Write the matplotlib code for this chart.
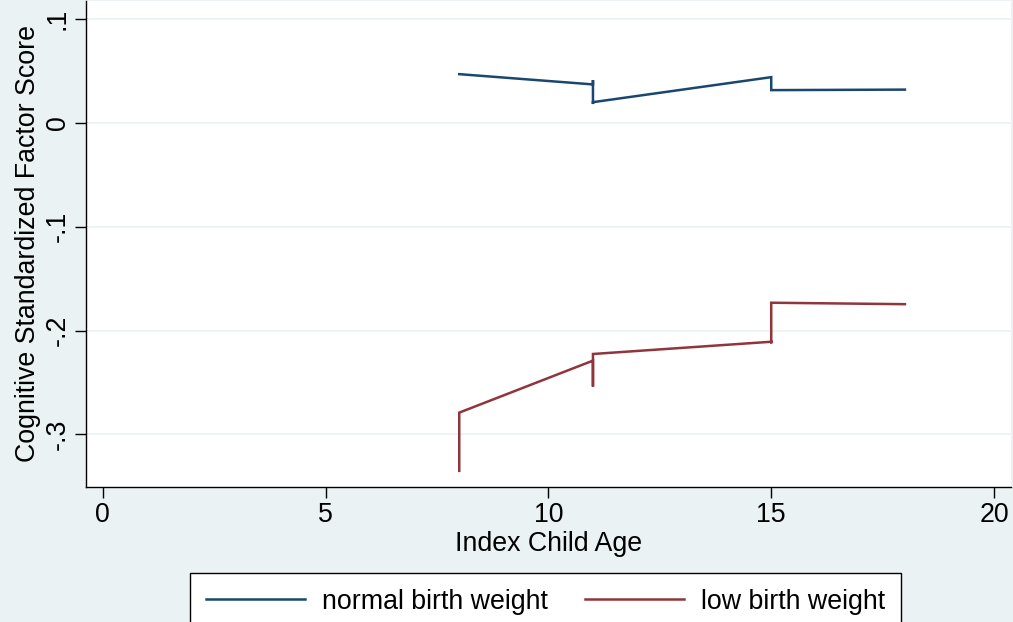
import matplotlib
matplotlib.use("Agg")
import matplotlib.pyplot as plt

# Data
normal_age = [8, 11, 11, 11, 11, 15, 15, 18]
normal_score = [0.0471, 0.0372, 0.0414, 0.0183, 0.0201, 0.0442, 0.0317, 0.0322]
low_age = [8, 8, 11, 11, 11, 15, 15, 15, 18]
low_score = [-0.3352, -0.2791, -0.2290, -0.2540, -0.2226, -0.2108, -0.2124, -0.1732, -0.1746]

xticks = [0, 5, 10, 15, 20]
yticks = [0.1, 0, -0.1, -0.2, -0.3]
yticklabels = [".1", "0", "-.1", "-.2", "-.3"]

bg = "#EAF2F3"
navy = "#1A476F"
maroon = "#90353B"

plt.rcParams['font.family'] = ['Liberation Sans', 'DejaVu Sans']
FS = 19.3

fig = plt.figure(figsize=(10.13, 6.22), dpi=100, facecolor=bg)
ax = fig.add_axes([86/1013, 1 - 486.7/622, (1011-86)/1013, (486.7-1)/622])
ax.set_facecolor("white")

ax.plot(normal_age, normal_score, color=navy, lw=1.8, label="normal birth weight", solid_joinstyle='miter')
ax.plot(low_age, low_score, color=maroon, lw=1.8, label="low birth weight", solid_joinstyle='miter')

ax.set_xlim(-0.375, 20.38)
ax.set_ylim(-0.3505, 0.1176)
ax.set_xticks(xticks)
ax.set_xticklabels([str(t) for t in xticks])
ax.set_yticks(yticks)
ax.set_yticklabels(yticklabels, rotation=90, va='center')
ax.grid(axis='y', color=bg, lw=1.2)
ax.set_axisbelow(True)
for s in ['top', 'right']:
    ax.spines[s].set_visible(False)
for s in ['left', 'bottom']:
    ax.spines[s].set_color('black')
    ax.spines[s].set_linewidth(1.0)
ax.tick_params(axis='both', length=8, width=1.0, color='black', labelsize=FS, pad=3)
ax.set_xlabel("Index Child Age", fontsize=FS, labelpad=2)
ax.set_ylabel("Cognitive Standardized Factor Score", fontsize=FS, labelpad=3)

leg = fig.legend(loc='upper left', bbox_to_anchor=(190/1013, 1 - 573/622), ncol=2,
                 fontsize=FS, frameon=True, fancybox=False, edgecolor='black',
                 facecolor='white', framealpha=1, handlelength=3.7, handletextpad=0.63,
                 columnspacing=1.4, borderpad=0.58, borderaxespad=0)
leg.get_frame().set_linewidth(1.0)

fig.savefig("out.png", dpi=100, facecolor=bg)
